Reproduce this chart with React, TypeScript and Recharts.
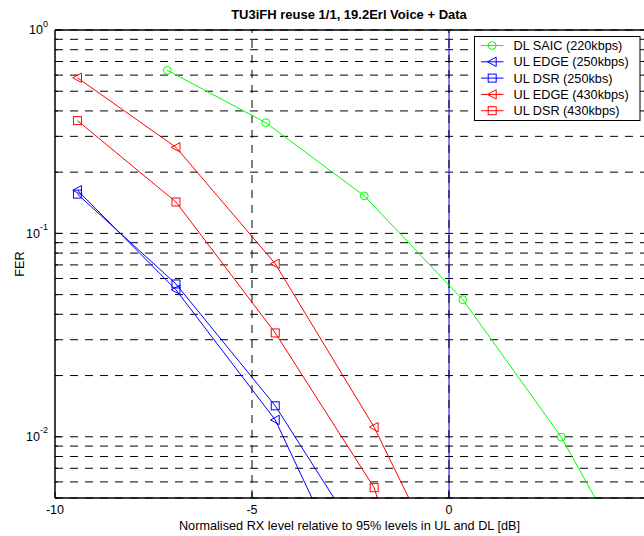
import React from 'react';
import { LineChart, Line, XAxis, YAxis, CartesianGrid, ReferenceLine } from 'recharts';

// RX level offsets (dB) for the measured points
const ulRxLevel = [-9.43, -6.93, -4.41, -1.9, 0.6];
const dlRxLevel = [-7.15, -4.65, -2.15, 0.35, 2.85, 5.35];

// FER values per curve
const dlSaic220 = [0.634, 0.35, 0.153, 0.0472, 0.00996, 0.00134];
const ulEdge250 = [0.163, 0.0528, 0.0121, 0.00112];
const ulDsr250 = [0.156, 0.0564, 0.0142, 0.00245];
const ulEdge430 = [0.582, 0.265, 0.0709, 0.01115, 0.00114];
const ulDsr430 = [0.3585, 0.1427, 0.0324, 0.00562, 0.00015];

const xTicks = [-10, -5, 0];
const xGridLines = [-5, 0];
const yTicks = [
  0.005, 0.006, 0.007, 0.008, 0.009,
  0.01, 0.02, 0.03, 0.04, 0.05, 0.06, 0.07, 0.08, 0.09,
  0.1, 0.2, 0.3, 0.4, 0.5, 0.6, 0.7, 0.8, 0.9,
  1,
];

const FONT = '"Liberation Sans", Arial, Helvetica, sans-serif';

type MarkerKind = 'circle' | 'triangle' | 'square';

const toPoints = (xs: number[], ys: number[]) => ys.map((y, i) => ({ x: xs[i], y }));

const series: { name: string; color: string; marker: MarkerKind; data: { x: number; y: number }[] }[] = [
  { name: 'DL SAIC (220kbps)', color: '#00ff00', marker: 'circle', data: toPoints(dlRxLevel, dlSaic220) },
  { name: 'UL EDGE (250kbps)', color: '#0000ff', marker: 'triangle', data: toPoints(ulRxLevel, ulEdge250) },
  { name: 'UL DSR (250kbs)', color: '#0000ff', marker: 'square', data: toPoints(ulRxLevel, ulDsr250) },
  { name: 'UL EDGE (430kbps)', color: '#ff0000', marker: 'triangle', data: toPoints(ulRxLevel, ulEdge430) },
  { name: 'UL DSR (430kbps)', color: '#ff0000', marker: 'square', data: toPoints(ulRxLevel, ulDsr430) },
];

const Marker = ({ kind, cx, cy, color }: { kind: MarkerKind; cx: number; cy: number; color: string }) => {
  if (kind === 'circle') {
    return <circle cx={cx} cy={cy} r={3.9} fill="none" stroke={color} strokeWidth={1} />;
  }
  if (kind === 'square') {
    return <rect x={cx - 4} y={cy - 4} width={8} height={8} fill="none" stroke={color} strokeWidth={1} />;
  }
  return (
    <polygon
      points={`${cx - 4.7},${cy} ${cx + 4},${cy - 4.7} ${cx + 4},${cy + 4.7}`}
      fill="none"
      stroke={color}
      strokeWidth={1}
    />
  );
};

const YTick = ({ x, y, payload }: any) => {
  const v = payload.value;
  const exp = Math.round(Math.log10(v));
  const isMajor = Math.abs(Math.log10(v) - exp) < 1e-6;
  return (
    <g>
      <line x1={x} x2={x + (isMajor ? 6 : 3)} y1={y} y2={y} stroke="#000" strokeWidth={1} />
      {isMajor && (
        <text x={x - 7} y={y + 4.4} textAnchor="end" fontSize={12.5} fontFamily={FONT} fill="#000">
          10
          <tspan dy={-7.8} fontSize={9}>
            {String(exp)}
          </tspan>
        </text>
      )}
    </g>
  );
};

const XTick = ({ x, y, payload }: any) => (
  <g>
    <line x1={x} x2={x} y1={y} y2={y - 6} stroke="#000" strokeWidth={1} />
    <text x={x} y={y + 16} textAnchor="middle" fontSize={12.5} fontFamily={FONT} fill="#000">
      {String(payload.value)}
    </text>
  </g>
);

const Legend = () => {
  const left = 474.5;
  const top = 36.5;
  const rowGap = 16.3;
  return (
    <g>
      <rect x={left} y={top} width={165.5} height={84} fill="#fff" stroke="#000" strokeWidth={1} />
      {series.map((s, i) => {
        const cy = top + 9 + i * rowGap;
        return (
          <g key={s.name}>
            <line x1={left + 6.5} x2={left + 29} y1={cy} y2={cy} stroke={s.color} strokeWidth={1} />
            <Marker kind={s.marker} cx={left + 17.7} cy={cy} color={s.color} />
            <text x={left + 39} y={cy + 4.6} fontSize={12.7} fontFamily={FONT} fill="#000">
              {s.name}
            </text>
          </g>
        );
      })}
    </g>
  );
};

const App: React.FC = () => {
  return (
    <div
      style={{
        position: 'absolute',
        left: 0,
        top: 0,
        width: 644,
        height: 536,
        overflow: 'hidden',
        background: '#fff',
      }}
    >
      <LineChart width={660} height={536} margin={{ top: 30, right: 14, bottom: 8, left: 0 }}>
        <CartesianGrid
          horizontalValues={yTicks}
          vertical={false}
          stroke="#000"
          strokeDasharray="8 7"
          strokeWidth={1}
        />
        <ReferenceLine x={0} stroke="#0000ff" strokeWidth={1} />
        {xGridLines.map((v) => (
          <ReferenceLine key={v} x={v} stroke="#000" strokeDasharray="8 7" strokeWidth={1} />
        ))}
        <ReferenceLine y={1} stroke="#000" strokeWidth={1.5} />
        <XAxis
          type="number"
          dataKey="x"
          domain={[-10, 5]}
          ticks={xTicks}
          allowDataOverflow
          height={30}
          tickSize={0}
          tickMargin={0}
          tickLine={false}
          interval={0}
          axisLine={{ stroke: '#000', strokeWidth: 1.5 }}
          tick={<XTick />}
        />
        <YAxis
          type="number"
          scale="log"
          dataKey="y"
          domain={[0.005, 1]}
          ticks={yTicks}
          allowDataOverflow
          width={55}
          tickSize={0}
          tickMargin={0}
          tickLine={false}
          interval={0}
          axisLine={{ stroke: '#000', strokeWidth: 1.5 }}
          tick={<YTick />}
        />
        {series.map((s) => (
          <Line
            key={s.name}
            data={s.data}
            dataKey="y"
            name={s.name}
            type="linear"
            stroke={s.color}
            strokeWidth={1}
            isAnimationActive={false}
            dot={(p: any) => (
              <Marker key={`${s.name}-${p.index}`} kind={s.marker} cx={p.cx} cy={p.cy} color={s.color} />
            )}
            activeDot={false}
          />
        ))}
      </LineChart>
      <svg
        width={644}
        height={536}
        style={{ position: 'absolute', left: 0, top: 0, pointerEvents: 'none' }}
      >
        <text x={349} y={19} textAnchor="middle" fontSize={13} fontWeight="bold" fontFamily={FONT} fill="#000">
          TU3iFH reuse 1/1, 19.2Erl Voice + Data
        </text>
        <text x={349.5} y={530} textAnchor="middle" fontSize={12.7} fontFamily={FONT} fill="#000">
          Normalised RX level relative to 95% levels in UL and DL [dB]
        </text>
        <text
          x={24}
          y={264}
          textAnchor="middle"
          fontSize={12.7}
          fontFamily={FONT}
          fill="#000"
          transform="rotate(-90, 24, 264)"
        >
          FER
        </text>
        <Legend />
      </svg>
    </div>
  );
};

export default App;
